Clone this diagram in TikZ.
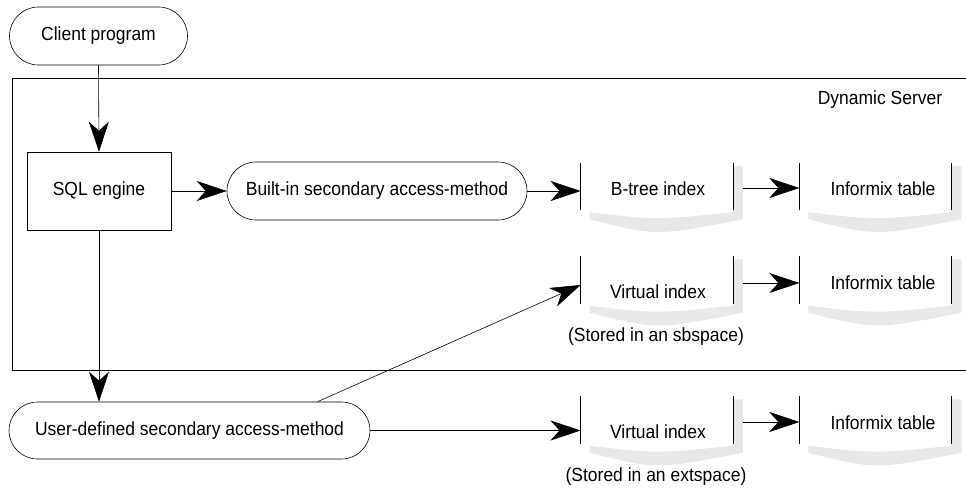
\documentclass[tikz,border=0pt]{standalone}
\usepackage{fontspec}
\setmainfont{Liberation Sans}[FakeStretch=0.92]
\usetikzlibrary{arrows.meta,shapes.misc,calc}

\definecolor{shadowgray}{gray}{0.91}
\tikzset{
  flow/.style={draw, line width=0.6pt, font=\fontsize{19}{21}\selectfont},
  stadium/.style={flow, rounded rectangle, minimum height=57pt, inner sep=0pt},
  engine/.style={flow, rectangle, minimum width=144pt, minimum height=78pt},
  idxframe/.style={minimum width=152pt, minimum height=47pt, inner sep=0pt},
  txt/.style={font=\fontsize{19}{21}\selectfont, inner sep=0pt},
  link/.style={line width=0.6pt, -{Stealth[length=30pt,width=20pt,inset=9pt]}},
}

\begin{document}
\begin{tikzpicture}[x=1pt, y=-1pt]
  \useasboundingbox (0,0) rectangle (966,489);
  % server frame
  \draw[line width=0.6pt] (966,78) -- (12,78) -- (12,370) -- (966,370);
  \node[txt] (server) at (880,100) {Dynamic Server};

  % main flow
  \node[stadium, minimum width=178pt, minimum height=58pt] (client) at (98.5,36) {Client program};
  \node[engine] (sql) at (99,191) {SQL engine};
  \node[stadium, minimum width=300pt, minimum height=58pt] (builtin) at (377,191) {Built-in secondary access-method};
  \node[stadium, minimum width=361pt] (user) at (189.5,430.5) {User-defined secondary access-method};

  % index and table frames
  \node[idxframe] (btree) at (656.7,186.5) {};
  \node[idxframe] (tabA) at (875.5,186.5) {};
  \node[idxframe] (vidxA) at (656.7,280) {};
  \node[idxframe] (tabB) at (875.5,280) {};
  \node[idxframe] (vidxB) at (656.7,420) {};
  \node[idxframe] (tabC) at (875.5,420) {};
  \foreach \b in {btree,tabA,vidxA,tabB,vidxB,tabC} {
    \fill[shadowgray] ([yshift=-3pt]\b.north east) -- ++(10,0)
      -- ([xshift=10pt,yshift=-9pt]\b.south east)
      .. controls ([yshift=-26pt]\b.south) .. ([xshift=9pt,yshift=-9pt]\b.south west)
      -- ([xshift=9pt,yshift=-2pt]\b.south west)
      .. controls ([yshift=-10pt]\b.south) .. ([yshift=-2pt]\b.south east) -- cycle;
    \draw[line width=0.6pt] (\b.north west) -- (\b.south west)
      (\b.north east) -- (\b.south east);
  }
  \node[txt] (btreetxt) at (658,189) {B-tree index};
  \node[txt] (tabAtxt) at (883,189) {Informix table};
  \node[txt] (vidxAtxt) at (658,292) {Virtual index};
  \node[txt] (tabBtxt) at (883,283) {Informix table};
  \node[txt] (vidxBtxt) at (658,432) {Virtual index};
  \node[txt] (tabCtxt) at (883,423) {Informix table};
  \node[txt] (sbspace) at (656,337) {(Stored in an sbspace)};
  \node[txt] (extspace) at (656,477) {(Stored in an extspace)};

  % connectors
  \draw[link] (client.south) -- (sql.north);
  \draw[link] (sql.east) -- (builtin.west);
  \draw[link] (builtin.east) -- (builtin.east -| btree.west);
  \draw[link] ([xshift=10pt,yshift=-1.5pt]btree.east) -- ([yshift=-1.5pt]tabA.west);
  \draw[link] (sql.south) -- (sql.south |- user.north);
  \draw[link] ([xshift=128pt]user.north) -- ([yshift=-5pt]vidxA.west);
  \draw[link] ([xshift=10pt,yshift=-3pt]vidxA.east) -- ([yshift=-3pt]tabB.west);
  \draw[link] (user.east) -- (user.east -| vidxB.west);
  \draw[link] ([xshift=10pt,yshift=-2pt]vidxB.east) -- ([yshift=-2pt]tabC.west);
\end{tikzpicture}
\end{document}
